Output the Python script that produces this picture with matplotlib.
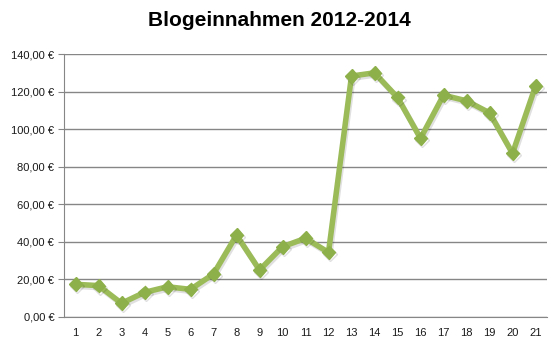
import matplotlib
matplotlib.use("Agg")
import matplotlib.pyplot as plt
from matplotlib.ticker import FuncFormatter
import matplotlib.patheffects as pe

# Monate (1..21) und Einnahmen in Euro
monate = list(range(1, 22))
einnahmen = [17.4, 16.7, 7.3, 13.1, 16.1, 14.7, 22.9, 43.6, 25.0, 37.4, 41.9,
             34.4, 128.3, 130.0, 116.9, 95.1, 118.1, 115.1, 108.7, 87.1, 122.9]
y_ticks = [0, 20, 40, 60, 80, 100, 120, 140]
titel = "Blogeinnahmen 2012-2014"

plt.rcParams["font.family"] = ["Liberation Sans", "DejaVu Sans"]

fig = plt.figure(figsize=(5.58, 3.51), dpi=100)
ax = fig.add_axes([0.1147, 0.0969, 0.8656, 0.7491])

ax.plot(monate, einnahmen, color="#9BBB59", lw=4, marker="D", ms=7,
        mfc="#8DB04A", mec="#8DB04A",
        path_effects=[pe.SimpleLineShadow(offset=(1, -1.5), alpha=0.12,
                                          shadow_color="black"),
                      pe.Normal()], zorder=3)

ax.set_xlim(0.5, 21.5)
ax.set_ylim(0, 140)
ax.set_xticks(monate)
ax.set_yticks(y_ticks)
ax.yaxis.set_major_formatter(FuncFormatter(lambda v, p: f"{v:.2f}".replace(".", ",") + " €"))
ax.grid(axis="y", color="#868686", lw=1)
ax.set_axisbelow(True)
for s in ["top", "right"]:
    ax.spines[s].set_visible(False)
ax.spines["left"].set_color("#868686")
ax.spines["bottom"].set_color("#868686")
ax.tick_params(axis="y", length=4, color="#868686", labelsize=8, pad=3,
               labelcolor="#1a1a1a")
ax.tick_params(axis="x", length=0, labelsize=8, pad=8, labelcolor="#1a1a1a")

fig.suptitle(titel, fontsize=15, fontweight="bold", y=0.97)
fig.savefig("out.png", dpi=100)
